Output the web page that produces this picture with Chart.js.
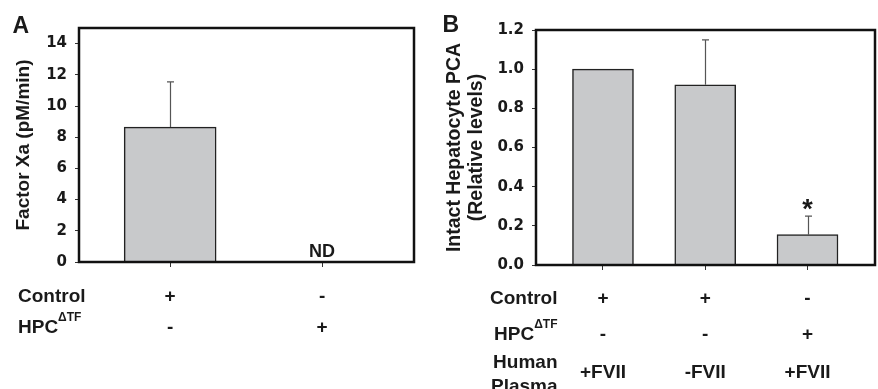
<!DOCTYPE html>
<html><head><meta charset="utf-8">
<script src="https://cdn.jsdelivr.net/npm/chart.js@4"></script>
<style>
html,body{margin:0;padding:0;background:#fff;}
#wrap{position:relative;width:878px;height:389px;overflow:hidden;background:#fff;}
#ca{position:absolute;left:0;top:0;}
#cb{position:absolute;left:430px;top:0;}
</style></head><body>
<div id="wrap"><canvas id="ca" width="440" height="389"></canvas><canvas id="cb" width="448" height="389"></canvas></div>
<script>
// ---------- Panel A data ----------
const aControl = ['+', '-'];
const aHPC = ['-', '+'];
const aValues = [8.65, null];
const aErrors = [2.9, null];
const aNotes = ['', 'ND'];
const aYTicks = [0, 2, 4, 6, 8, 10, 12, 14];
const aYMax = 15;
const aYTitle = 'Factor Xa (pM/min)';

// ---------- Panel B data ----------
const bControl = ['+', '+', '-'];
const bHPC = ['-', '-', '+'];
const bPlasma = ['+FVII', '-FVII', '+FVII'];
const bValues = [1.0, 0.92, 0.155];
const bErrors = [0, 0.23, 0.095];
const bNotes = ['', '', '*'];
const bYTicks = [0, 0.2, 0.4, 0.6, 0.8, 1.0, 1.2];
const bYMax = 1.2;
const bYTitle = ['Intact Hepatocyte PCA', '(Relative levels)'];

const FAM = '"Liberation Sans", Arial, Helvetica, sans-serif';
const TICKFAM = '"DejaVu Sans", "Liberation Sans", sans-serif';
const BAR_FILL = '#c8c9cb';
const INK = '#1a1a1a';

function makePanel(canvasId, o) {
  const idx = o.values.map((v, i) => i);
  const framePlugin = {
    id: 'frame' + canvasId,
    afterDatasetsDraw(chart) {
      const ctx = chart.ctx, xs = chart.scales.x, ys = chart.scales.y;
      ctx.save();
      // error bars
      ctx.strokeStyle = '#555';
      ctx.lineWidth = 1.2;
      o.values.forEach((v, i) => {
        const e = o.errors[i];
        if (v == null || !e) return;
        const x = Math.round(xs.getPixelForValue(i)) + 0.5;
        const y0 = ys.getPixelForValue(v);
        const y1 = ys.getPixelForValue(v + e);
        ctx.beginPath();
        ctx.moveTo(x, y0); ctx.lineTo(x, y1);
        ctx.moveTo(x - 3.5, y1); ctx.lineTo(x + 3.5, y1);
        ctx.stroke();
      });
      // notes (ND, *)
      ctx.fillStyle = INK;
      ctx.textAlign = 'center';
      ctx.textBaseline = 'alphabetic';
      o.notes.forEach((t, i) => {
        if (!t) return;
        const v = o.values[i] == null ? 0 : o.values[i] + (o.errors[i] || 0);
        const target = ys.getPixelForValue(v) - 12;
        ctx.font = 'bold ' + (t === '*' ? 27 : 18) + 'px ' + FAM;
        const m = ctx.measureText(t);
        const off = (m.actualBoundingBoxAscent - m.actualBoundingBoxDescent) / 2;
        ctx.fillText(t, xs.getPixelForValue(i), target + off);
      });
      // frame
      const a = chart.chartArea;
      ctx.strokeStyle = '#111';
      ctx.lineWidth = 2.5;
      ctx.strokeRect(a.left, a.top, a.right - a.left, a.bottom - a.top);
      ctx.restore();
    },
    afterDraw(chart) {
      const ctx = chart.ctx, xs = chart.scales.x;
      ctx.save();
      ctx.fillStyle = INK;
      ctx.textBaseline = 'alphabetic';
      // panel letter
      ctx.font = 'bold 23px ' + FAM;
      ctx.textAlign = 'left';
      ctx.fillText(o.letter, o.letterX, o.letterY);
      // condition rows
      o.rows.forEach(r => {
        ctx.font = 'bold 19px ' + FAM;
        // header
        const headers = Array.isArray(r.header) ? r.header : [r.header];
        headers.forEach((h, k) => {
          const base = r.headerBases ? r.headerBases[k] : r.base;
          if (r.sup) {
            ctx.font = 'bold 19px ' + FAM;
            const w1 = ctx.measureText(h).width;
            ctx.font = 'bold 12px ' + FAM;
            const w2 = ctx.measureText(r.sup).width;
            let x0 = o.headerAlign === 'left' ? o.headerX : o.headerX - w1 - w2;
            ctx.textAlign = 'left';
            ctx.font = 'bold 19px ' + FAM;
            ctx.fillText(h, x0, base);
            ctx.font = 'bold 12px ' + FAM;
            ctx.fillText(r.sup, x0 + w1, base - 12.5);
          } else {
            ctx.font = 'bold 19px ' + FAM;
            ctx.textAlign = o.headerAlign;
            ctx.fillText(h, o.headerX, base);
          }
        });
        ctx.font = 'bold 19px ' + FAM;
        ctx.textAlign = 'center';
        r.vals.forEach((t, i) => ctx.fillText(t, xs.getPixelForValue(i), r.base));
      });
      ctx.restore();
    }
  };

  return new Chart(document.getElementById(canvasId), {
    type: 'bar',
    data: {
      datasets: [{
        data: o.values.map((v, i) => ({ x: i, y: v })),
        backgroundColor: BAR_FILL,
        borderColor: '#222',
        borderWidth: 1.5,
        barThickness: o.barPx
      }]
    },
    options: {
      responsive: false,
      animation: false,
      devicePixelRatio: 1,
      layout: { padding: o.pad },
      plugins: { legend: { display: false }, tooltip: { enabled: false } },
      scales: {
        x: {
          type: 'linear',
          min: o.xMin, max: o.xMax,
          offset: false,
          afterBuildTicks: s => { s.ticks = idx.map(v => ({ value: v })); },
          afterFit: s => { s.height = o.xHeight; },
          ticks: { display: false },
          grid: { offset: false, drawOnChartArea: false, drawTicks: true, tickLength: 5, color: '#333', lineWidth: 1 },
          border: { display: false }
        },
        y: {
          min: 0, max: o.yMax,
          afterBuildTicks: s => { s.ticks = o.yTicks.map(v => ({ value: v })); },
          afterFit: s => { s.width = o.yWidth; },
          ticks: {
            color: INK,
            padding: 8,
            font: { family: TICKFAM, size: 15, weight: 'bold' },
            callback: o.tickFmt
          },
          grid: { drawOnChartArea: false, drawTicks: true, tickLength: 4, color: '#333', lineWidth: 1 },
          border: { display: false },
          title: {
            display: true,
            text: o.title,
            color: INK,
            font: { family: FAM, size: o.titleSize, weight: 'bold', lineHeight: o.titleLH },
            padding: { top: o.titlePadTop, bottom: 0 }
          }
        }
      }
    },
    plugins: [framePlugin]
  });
}

makePanel('ca', {
  values: aValues, errors: aErrors, notes: aNotes,
  yTicks: aYTicks, yMax: aYMax,
  xMin: -0.6, xMax: 1.605, barPx: 92,
  yWidth: 79, xHeight: 127,
  pad: { left: 0, top: 28, right: 26, bottom: 0 },
  title: aYTitle, titleSize: 19, titleLH: '23px', titlePadTop: 12,
  tickFmt: v => String(v),
  letter: 'A', letterX: 12.5, letterY: 33.3,
  headerAlign: 'left', headerX: 18,
  rows: [
    { header: 'Control', vals: aControl, base: 301.5 },
    { header: 'HPC', sup: '\u0394TF', vals: aHPC, base: 333 }
  ]
});

makePanel('cb', {
  values: bValues, errors: bErrors, notes: bNotes,
  yTicks: bYTicks, yMax: bYMax,
  xMin: -0.655, xMax: 2.66, barPx: 61,
  yWidth: 106, xHeight: 124,
  pad: { left: 0, top: 30, right: 3, bottom: 0 },
  title: bYTitle, titleSize: 19.5, titleLH: '22px', titlePadTop: 14,
  tickFmt: v => Number(v).toFixed(1),
  letter: 'B', letterX: 12.5, letterY: 31.7,
  headerAlign: 'right', headerX: 127.5,
  rows: [
    { header: 'Control', vals: bControl, base: 304 },
    { header: 'HPC', sup: '\u0394TF', vals: bHPC, base: 340 },
    { header: ['Human', 'Plasma'], headerBases: [368, 391.5], vals: bPlasma, base: 378 }
  ]
});
</script>
</body></html>
